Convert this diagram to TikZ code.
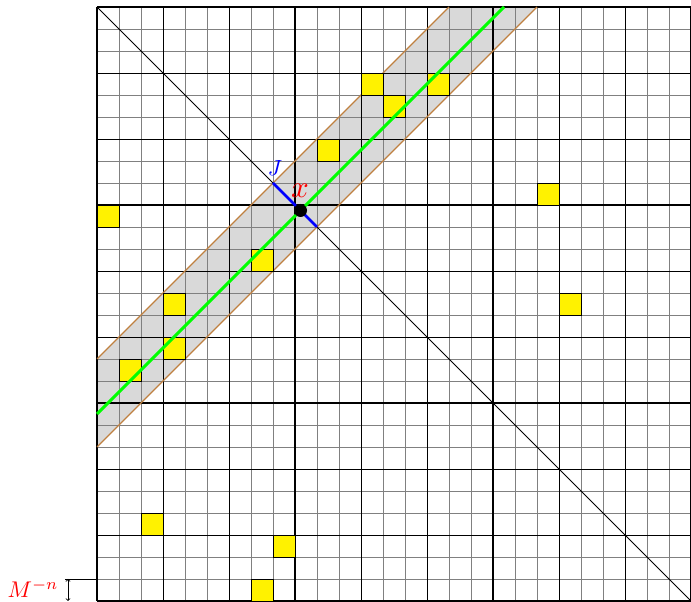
\documentclass[tikz,border=0pt]{standalone}
\begin{document}
\begin{tikzpicture}[x=22pt,y=22pt,
  fineline/.style={draw=black!50,line width=0.7pt},
  midline/.style={draw=black,line width=0.8pt},
  heavyline/.style={draw=black,line width=1.5pt},
  bandedge/.style={draw=brown,line width=1.2pt},
  ycell/.style={fill=yellow,draw=black,line width=0.6pt},
  lab/.style={inner sep=0pt,text=red}]
\useasboundingbox (-97pt,-1pt) rectangle (594pt,601pt);
% band
\fill[black!15] (0,7) -- (0,11) -- (16,27) -- (20,27) -- cycle;
% grids
\draw[fineline] (0,0) grid[step=22pt] (27,27);
\draw[midline] (0,0) grid[step=66pt] (27,27);
\draw[heavyline] (0,0) grid[step=198pt] (27,27);
% band edges
\coordinate (b1s) at (0,7); \coordinate (b1e) at (20,27);
\coordinate (b2s) at (0,11); \coordinate (b2e) at (16,27);
\draw[bandedge] (b1s) -- (b1e);
\draw[bandedge] (b2s) -- (b2e);
% yellow cells
\foreach \c/\r in {12/23,13/22,15/23,10/20,20/18,0/17,7/15,3/13,21/13,3/11,1/10,2/3,8/2,7/0}
  \draw[ycell] (\c,\r) rectangle ++(1,1);
% anti-diagonal
\coordinate (dtl) at (0,27); \coordinate (dbr) at (27,0);
\draw[line width=0.8pt] (dtl) -- (dbr);
% green line
\coordinate (gs) at (0,8.5); \coordinate (ge) at (18.5,27);
\draw[green,line width=3pt] (gs) -- (ge);
% J segment
\coordinate (ju) at (8,19); \coordinate (jl) at (10,17);
\draw[blue,line width=2.8pt] (ju) -- (jl);
% point x
\fill (9.25,17.75) circle (6.5pt);
\node[inner sep=0pt,text=blue,scale=2.2,anchor=base] (jlab) at (178pt,425pt) {$J$};
\node[lab,scale=3.1,anchor=base] (xlab) at (203pt,403pt) {$x$};
% scale mark
\coordinate (tk) at (-32pt,22pt); \coordinate (tg) at (0,1);
\draw[line width=0.8pt] (tk) -- (tg);
\coordinate (at) at (-29pt,22pt); \coordinate (ab) at (-29pt,0pt);
\draw[<->,line width=0.8pt] (at) -- (ab);
\node[lab,scale=2.27,anchor=base east] (mlab) at (-38pt,3pt) {$M^{-n}$};
\end{tikzpicture}
\end{document}
